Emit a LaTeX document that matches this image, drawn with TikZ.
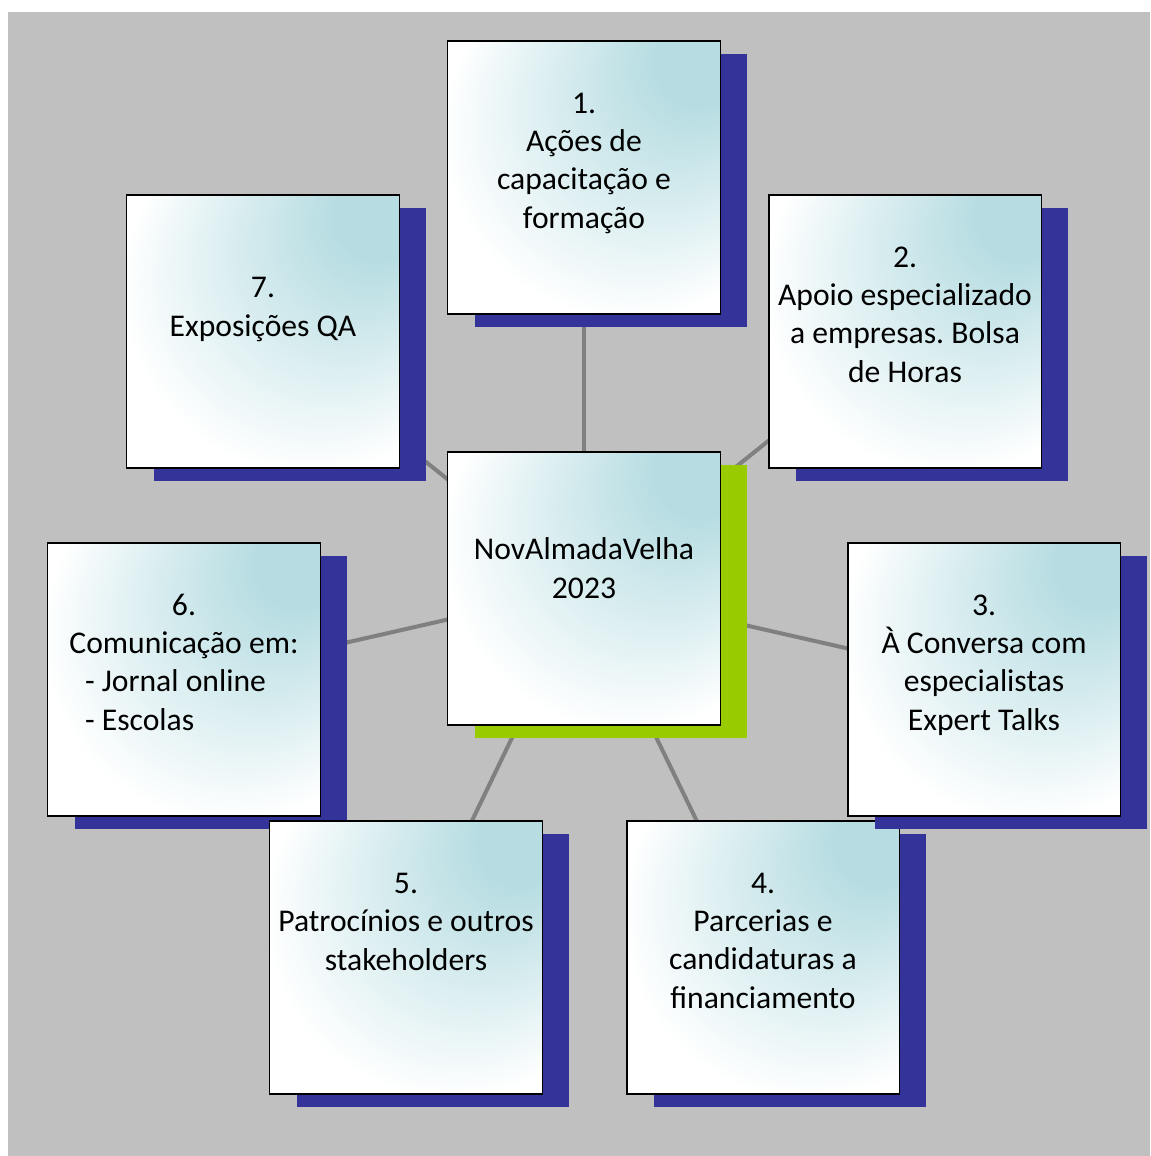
\documentclass[tikz,border=0pt]{standalone}
\usepackage{fontspec}
\setmainfont{Carlito}
\usetikzlibrary{shadows}
\frenchspacing

\definecolor{backgray}{RGB}{192,192,192}
\definecolor{linkgray}{RGB}{128,128,128}
\definecolor{navyshade}{RGB}{51,51,153}
\definecolor{limeshade}{RGB}{153,204,0}
\definecolor{tealglow}{RGB}{183,221,226}

\pgfdeclareradialshading{glow}{\pgfpoint{25bp}{25bp}}{color(0bp)=(tealglow); color(8bp)=(tealglow); color(34bp)=(white); color(50bp)=(white)}

\pgfdeclarelayer{back}
\pgfdeclarelayer{links}
\pgfsetlayers{back,links,main}

\tikzset{
	card/.style={draw=black, line width=1.1pt, shade, shading=glow, minimum width=5.46cm, minimum height=5.46cm, inner sep=0pt},
	navycard/.style={card, general shadow={fill=navyshade, shadow xshift=0.54cm, shadow yshift=-0.26cm}},
	limecard/.style={card, general shadow={fill=limeshade, shadow xshift=0.54cm, shadow yshift=-0.26cm}},
	txt/.style={font=\fontsize{18}{21.8}\selectfont, align=center, inner sep=0pt, anchor=base},
	link/.style={draw=linkgray, line width=2.3pt}
}

\begin{document}
\begin{tikzpicture}[x=0.02cm, y=-0.02cm]
	
	\useasboundingbox (0,0) rectangle (1150,1156);
	
	\node[limecard] (hub) at (584,588.5) {};
	\node[navycard] (b1) at (584,177.5) {};
	\node[navycard] (b2) at (905,331.5) {};
	\node[navycard] (b4) at (763,957.5) {};
	\node[navycard] (b3) at (984,679.5) {};
	\node[navycard] (b6) at (184,679.5) {};
	\node[navycard] (b5) at (406,957.5) {};
	\node[navycard] (b7) at (263,331.5) {};
	
	% last line baselines
	\node[txt] (thub) at (584,598) {NovAlmadaVelha\\2023};
	\node[txt] (t1) at (584,228) {1.\\Ações de\\capacitação e\\formação};
	\node[txt] (t2) at (905,382) {2.\\Apoio especializado\\a empresas. Bolsa\\de Horas};
	\node[txt] (t3) at (984,730) {3.\\À Conversa com\\especialistas\\Expert Talks};
	\node[txt] (t4) at (763,1008) {4.\\Parcerias e\\candidaturas a\\financiamento};
	\node[txt] (t5) at (406,970) {5.\\Patrocínios e outros\\stakeholders};
	\node[txt] (t6) at (184,730) {6.\\Comunicação em:\\\makebox[3.96cm][l]{- Jornal online}\\\makebox[3.96cm][l]{- Escolas}};
	\node[txt] (t7) at (263,336) {7.\\Exposições QA};
	
	\begin{pgfonlayer}{links}
		\foreach \b in {b1,b2,b3,b4,b5,b6,b7}
			\draw[link] (hub.center) -- (\b.center);
	\end{pgfonlayer}
	
	\begin{pgfonlayer}{back}
		\fill[backgray] (8,12) rectangle (1150,1156);
	\end{pgfonlayer}
\end{tikzpicture}
\end{document}
